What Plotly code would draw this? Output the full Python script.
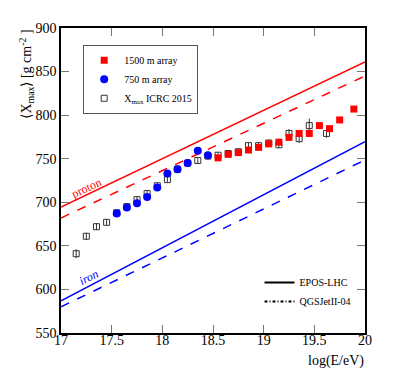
import plotly.graph_objects as go

# ---- data ----
icrc_x = [17.15, 17.25, 17.35, 17.45, 17.55, 17.65, 17.75, 17.85, 17.95, 18.05, 18.15, 18.25,
          18.35, 18.45, 18.55, 18.65, 18.75, 18.85, 18.95, 19.05, 19.15, 19.25, 19.35, 19.45, 19.62]
icrc_y = [641, 661, 672, 677, 688, 695, 703, 710, 719, 726, 738, 745,
          748, 753, 754, 756, 758, 765, 765, 768, 766, 779, 773, 788, 779]
icrc_err = [5, 4, 4, 3, 3, 3, 4, 3, 3, 3, 3, 3,
            3, 3, 3, 3, 3, 3, 3, 4, 4, 5, 5, 8, 5]

sd1500_x = [18.55, 18.65, 18.75, 18.85, 18.95, 19.05, 19.15, 19.25, 19.35, 19.45, 19.55, 19.65, 19.75, 19.89]
sd1500_y = [751, 755, 757, 760, 763, 767, 769, 774.5, 779, 779, 788, 784.5, 794.5, 807]
sd1500_err = [2, 2, 2, 2, 2, 2, 2, 2, 2, 2, 2, 2, 2, 3]

sd750_x = [17.55, 17.65, 17.75, 17.85, 17.95, 18.05, 18.15, 18.25, 18.35, 18.45]
sd750_y = [687, 694, 699, 706, 717, 733, 738, 745, 759, 754]
sd750_err = [2, 2, 2, 2, 2, 2, 2, 2, 3, 4]

model_x = [17, 20]
epos_p = [694.5, 861]
qgs_p = [682, 845]
epos_fe = [587, 769.5]
qgs_fe = [580, 748.5]

x_ticks = [17, 17.5, 18, 18.5, 19, 19.5, 20]
x_ticklabels = ["17", "17.5", "18", "18.5", "19", "19.5", "20"]
y_ticks = [550, 600, 650, 700, 750, 800, 850, 900]
y_ticklabels = ["550", "600", "650", "700", "750", "800", "850", "900"]

RED = "#ff0000"
BLUE = "#0000ff"
FONT = "'Liberation Serif', 'Times New Roman', Times, serif"

fig = go.Figure()

# model lines
fig.add_trace(go.Scatter(x=model_x, y=epos_p, mode="lines", line=dict(color=RED, width=1.5), showlegend=False))
fig.add_trace(go.Scatter(x=model_x, y=qgs_p, mode="lines", line=dict(color=RED, width=1.5, dash="dash"), showlegend=False))
fig.add_trace(go.Scatter(x=model_x, y=epos_fe, mode="lines", line=dict(color=BLUE, width=1.5), showlegend=False))
fig.add_trace(go.Scatter(x=model_x, y=qgs_fe, mode="lines", line=dict(color=BLUE, width=1.5, dash="dash"), showlegend=False))

# data (ICRC drawn first so filled markers sit on top)
fig.add_trace(go.Scatter(x=icrc_x, y=icrc_y, mode="markers", name="X<sub>max</sub> ICRC 2015",
                         marker=dict(symbol="square-open", size=6, color="#333333", line=dict(width=1)),
                         error_y=dict(type="data", array=icrc_err, color="#333333", thickness=1, width=0),
                         legend="legend", legendrank=3))
fig.add_trace(go.Scatter(x=sd1500_x, y=sd1500_y, mode="markers", name="1500 m array",
                         marker=dict(symbol="square", size=7, color=RED),
                         error_y=dict(type="data", array=sd1500_err, color="#555555", thickness=1, width=0),
                         legend="legend", legendrank=1))
fig.add_trace(go.Scatter(x=sd750_x, y=sd750_y, mode="markers", name="750 m array",
                         marker=dict(symbol="circle", size=8, color=BLUE),
                         error_y=dict(type="data", array=sd750_err, color="#555555", thickness=1, width=0),
                         legend="legend", legendrank=2))

# legend-only entries for models
fig.add_trace(go.Scatter(x=[None], y=[None], mode="lines", name="EPOS-LHC",
                         line=dict(color="black", width=2), legend="legend2"))
fig.add_trace(go.Scatter(x=[None], y=[None], mode="lines", name="QGSJetII-04",
                         line=dict(color="black", width=2, dash="3px,2px,1px,2px"), legend="legend2"))

fig.update_layout(
    width=415, height=379,
    margin=dict(l=61, r=50, t=28, b=46),
    paper_bgcolor="white", plot_bgcolor="white",
    font=dict(family=FONT, size=14, color="black"),
    legend=dict(x=0.073, y=0.945, xanchor="left", yanchor="top",
                bordercolor="#555555", borderwidth=1, bgcolor="white",
                font=dict(family=FONT, size=10), itemwidth=30),
    legend2=dict(x=0.653, y=0.213, xanchor="left", yanchor="top",
                 bgcolor="rgba(0,0,0,0)", font=dict(family=FONT, size=10), itemwidth=30),
    xaxis=dict(range=[17, 20], tickmode="array", tickvals=x_ticks, ticktext=x_ticklabels,
               showline=True, linecolor="black", linewidth=1.5, mirror="ticks",
               ticks="inside", ticklen=8, tickcolor="#777777", showgrid=False, zeroline=False,
               ticklabelstandoff=-7,
               tickfont=dict(family=FONT, size=14)),
    yaxis=dict(range=[550, 900], tickmode="array", tickvals=y_ticks, ticktext=y_ticklabels,
               showline=True, linecolor="black", linewidth=1.5, mirror="ticks",
               ticks="inside", ticklen=8, tickcolor="#777777", showgrid=False, zeroline=False,
               tickfont=dict(family=FONT, size=14)),
    annotations=[
        dict(text="proton", x=17.25, y=716, xref="x", yref="y", showarrow=False,
             textangle=-25, font=dict(family=FONT, size=12, color=RED)),
        dict(text="<i>iron</i>", x=17.28, y=614, xref="x", yref="y", showarrow=False,
             textangle=-27, font=dict(family=FONT, size=12, color=BLUE)),
        dict(text="⟨X<sub>max</sub>⟩ [g cm<sup>-2</sup> ]", x=-0.115, y=1.0, xref="paper", yref="paper",
             xanchor="center", yanchor="top", showarrow=False, textangle=-90,
             font=dict(family=FONT, size=14)),
        dict(text="log(E/eV)", x=1.003, y=-0.059, xref="paper", yref="paper",
             xanchor="right", yanchor="top", showarrow=False,
             font=dict(family=FONT, size=14)),
    ],
)

fig.write_html("out.html", config={"displayModeBar": False},
               post_script="document.body.style.margin='0';document.body.style.padding='0';")
